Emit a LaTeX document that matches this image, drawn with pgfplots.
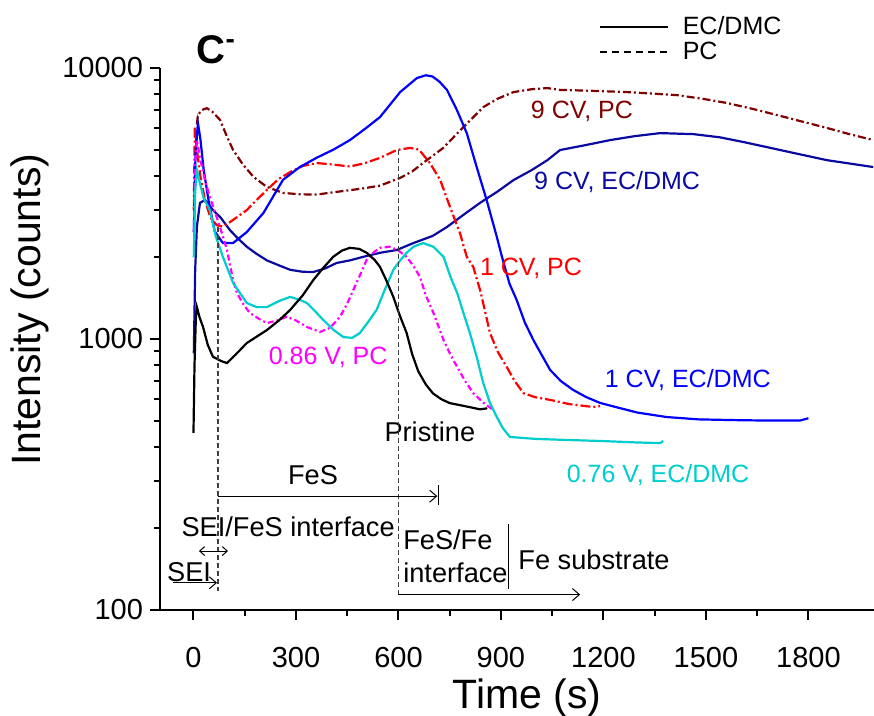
\documentclass[border=0pt]{standalone}
\usepackage{pgfplots}
\pgfplotsset{compat=1.18}
\usepackage{fontspec}
\setmainfont{Liberation Sans}
\usetikzlibrary{arrows.meta}

\definecolor{cblue}{RGB}{0,0,255}
\definecolor{cnavy}{RGB}{10,10,160}
\definecolor{cred}{RGB}{255,0,0}
\definecolor{cdred}{RGB}{128,0,0}
\definecolor{cmag}{RGB}{255,0,255}
\definecolor{ccyan}{RGB}{0,205,205}

\pgfplotstableread{
x y
0 450
3 800
7 1200
10 1310
18 1200
28 1107
42 950
57 860
80 830
98 815
125 880
156 966
185 1020
215 1079
250 1170
283 1280
320 1450
351 1652
380 1830
409 2010
435 2120
458 2170
485 2150
507 2080
530 1960
546 1845
565 1640
585 1430
604 1220
624 1052
640 880
658 760
680 680
701 630
725 600
750 580
780 570
810 560
839 550
860 555
}\pristine

\pgfplotstableread{
x y
1 2480
6 4800
13 6270
20 5500
30 4200
45 3200
62 2500
86 2260
116 2260
156 2480
205 2920
262 3866
310 4300
360 4660
410 5000
458 5420
505 6000
546 6590
605 8150
654 9180
680 9400
700 9300
720 8900
742 8300
771 7000
800 5750
829 4310
858 3260
888 2380
903 2010
925 1600
946 1393
970 1150
995 991
1020 870
1044 769
1075 700
1111 649
1150 610
1190 581
1250 555
1300 535
1386 515
1480 505
1580 502
1680 500
1775 500
1800 510
}\cvoneec

\pgfplotstableread{
x y
1 3000
4 6050
10 5000
20 4000
35 3200
50 2800
68 2630
85 2600
107 2700
127 2815
156 2990
185 3260
215 3550
250 3900
283 4130
320 4350
361 4460
410 4400
458 4330
500 4450
546 4660
595 4980
634 5070
660 5000
692 4460
722 3870
751 3070
780 2460
800 2010
819 1845
840 1500
868 1052
890 900
917 788
940 700
966 631
1000 610
1044 596
1100 575
1170 561
1190 565
}\cvonepc

\pgfplotstableread{
x y
1 2500
5 4500
10 5420
20 4600
35 3800
48 3340
68 2815
86 2400
98 2130
116 1650
127 1480
145 1350
165 1247
190 1190
215 1145
245 1170
273 1208
300 1170
332 1107
371 1062
400 1100
429 1208
450 1350
468 1517
490 1750
507 1960
530 2100
546 2170
575 2190
600 2120
624 2010
645 1850
663 1694
680 1450
701 1260
732 992
750 887
772 788
795 700
819 631
850 580
878 547
}\vpc

\pgfplotstableread{
x y
1 2000
5 3500
10 4200
20 3700
30 3300
48 2990
65 2400
86 2010
116 1610
156 1358
185 1311
215 1311
250 1380
283 1430
312 1393
332 1358
355 1270
380 1175
410 1080
439 1016
465 1010
487 1052
510 1150
536 1280
560 1520
585 1800
605 1950
624 2080
644 2190
672 2260
702 2190
732 2010
752 1700
772 1478
790 1250
809 1052
830 850
848 689
868 580
888 515
905 470
926 435
1000 428
1093 424
1200 420
1300 415
1366 413
1375 420
}\vec

\pgfplotstableread{
x y
1 887
5 1800
10 2600
19 3180
34 3260
57 2990
80 2800
107 2520
130 2350
156 2190
185 2060
215 1950
250 1870
283 1800
320 1770
351 1767
385 1820
419 1908
458 1950
497 2010
546 2080
595 2130
644 2260
700 2400
742 2590
790 2870
839 3180
890 3500
937 3860
990 4200
1036 4570
1073 4980
1150 5200
1220 5420
1290 5600
1366 5750
1464 5700
1540 5550
1610 5330
1680 5100
1756 4860
1854 4570
1990 4310
}\cvnineec

\pgfplotstableread{
x y
10 6200
13 6710
25 7000
39 7110
55 6900
78 6430
95 5700
116 4980
145 4400
176 3960
215 3640
262 3460
310 3420
361 3410
410 3480
458 3540
500 3600
546 3680
605 3930
640 4150
672 4460
731 5070
790 6050
849 7180
890 7700
937 8150
990 8350
1036 8430
1073 8300
1150 8250
1268 8150
1340 8050
1415 7940
1490 7700
1561 7430
1640 7050
1707 6710
1780 6350
1854 6010
1920 5700
1990 5420
}\cvninepc

\begin{document}
\begin{tikzpicture}
\begin{axis}[
  at={(0,0)}, anchor=south west,
  scale only axis, width=357pt, height=271pt,
  xmin=-98, xmax=1992,
  ymode=log, ymin=100, ymax=10000,
  axis lines=left, axis line style={-, line width=1.2pt},
  clip=false,
  xtick={0,300,...,1800}, minor x tick num=1,
  ytick={100,1000,10000}, yticklabels={100,1000,10000},
  tick align=outside, major tick length=5pt, minor tick length=3pt,
  tick style={line width=1pt, black},
  /pgf/number format/assume math mode=true,
  /pgf/number format/1000 sep={},
  tick label style={font=\fontsize{14.5}{16}\selectfont},
  xticklabel style={yshift=-10pt},
  xlabel={Time (s)}, ylabel={Intensity (counts)},
  label style={font=\fontsize{20.5}{24}\selectfont},
  xlabel style={at={(axis description cs:0.514,-0.162)}, anchor=center},
  ylabel style={at={(axis description cs:-0.182,0.554)}, anchor=center},
  legend style={draw=none, fill=none, at={(axis description cs:0.614,1.103)}, anchor=north west,
    font=\fontsize{12.5}{13}\selectfont, row sep=-2pt, column sep=5pt, inner sep=0pt},
  legend cell align=left,
  legend image code/.code={\draw[#1] (0pt,0pt) -- (34pt,0pt);},
  every axis plot/.append style={line width=1.1pt},
]
\addlegendimage{black, line width=1pt}
\addlegendentry{EC/DMC}
\addlegendimage{black, line width=1pt, dash pattern=on 3.5pt off 2.5pt}
\addlegendentry{PC}

\addplot[cdred, dash pattern=on 4pt off 1.5pt on 1pt off 1.5pt, forget plot] table {\cvninepc};
\addplot[cnavy, forget plot] table {\cvnineec};
\addplot[cred, dash pattern=on 5pt off 1.5pt on 1pt off 1.5pt, forget plot] table {\cvonepc};
\addplot[cblue, forget plot] table {\cvoneec};
\addplot[cmag, dash pattern=on 3pt off 1.5pt on 1pt off 1.5pt, forget plot] table {\vpc};
\addplot[ccyan, forget plot] table {\vec};
\addplot[black, forget plot] table {\pristine};

% curve labels
\begin{scope}[every node/.style={font=\fontsize{12.5}{15}\selectfont}]
\node[cdred] at (axis cs:1137,6890) {9 CV, PC};
\node[cnavy] at (axis cs:1240,3790) {9 CV, EC/DMC};
\node[cred] at (axis cs:988,1828) {1 CV, PC};
\node[cmag] at (axis cs:394,859) {0.86 V, PC};
\node[cblue] at (axis cs:1447,706) {1 CV, EC/DMC};
\node[ccyan] at (axis cs:1360,315) {0.76 V, EC/DMC};
\end{scope}
\begin{scope}[every node/.style={font=\fontsize{13.6}{16}\selectfont}]
\node[black] at (axis cs:692,454) {Pristine};
\node at (axis cs:350,315) {FeS};
\node at (axis cs:277,202) {SEI/FeS interface};
\node at (axis cs:-13,138) {SEI};
\node[anchor=west, inner sep=0pt] at (axis cs:613,181) {FeS/Fe};
\node[anchor=west, inner sep=0pt] at (axis cs:613,137) {interface};
\node[anchor=west, inner sep=0pt] at (axis cs:950,153) {Fe substrate};
\end{scope}

% region markers
\tikzset{barb/.style={line width=0.5pt, -{Straight Barb[length=3.5pt,width=6pt]}}}
\draw[black!75, line width=0.6pt, dash pattern=on 2.5pt off 1.5pt] (axis cs:72,2600) -- (axis cs:72,118);
\draw[black!75, line width=0.6pt, dash pattern=on 2.5pt off 1.5pt] (axis cs:600,5000) -- (axis cs:600,114);
\draw[barb] (axis cs:-60,126) -- (axis cs:69,126);
\draw[line width=0.5pt, {Straight Barb[length=2.5pt,width=4.5pt]}-{Straight Barb[length=2.5pt,width=4.5pt]}] (axis cs:16,165) -- (axis cs:101,165);
\draw[barb] (axis cs:72,263) -- (axis cs:714,263);
\draw[line width=0.5pt] (axis cs:716,244) -- (axis cs:716,289);
\draw[barb] (axis cs:600,114) -- (axis cs:1132,114);
\draw[line width=0.6pt] (axis cs:923,120) -- (axis cs:923,207);

\node[font=\fontsize{20}{22}\selectfont\bfseries] at (axis description cs:0.079,1.033) {C\textsuperscript{-}};
\end{axis}
\pgfresetboundingbox
\path[use as bounding box] (-80pt,-53pt) rectangle (357pt,305pt);
\end{tikzpicture}
\end{document}
